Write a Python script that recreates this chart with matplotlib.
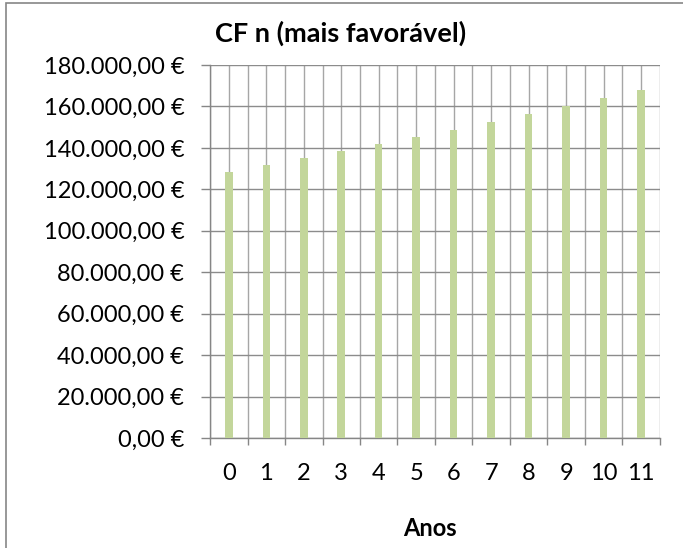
import matplotlib.pyplot as plt
from matplotlib.patches import Rectangle
from matplotlib.ticker import FuncFormatter
import numpy as np

plt.rcParams['font.family'] = ['Lato', 'DejaVu Sans']

# data
anos = ['0', '1', '2', '3', '4', '5', '6', '7', '8', '9', '10', '11']
cf_n = [128460, 131540, 134900, 138270, 141780, 145140,
        148850, 152500, 156540, 160340, 164180, 168170]

BAR_COLOR = '#C3D69B'
GRID_COLOR = '#A6A6A6'
AXIS_COLOR = '#868686'


def euro(v, pos=None):
    s = f"{v:,.2f}".replace(",", "X").replace(".", ",").replace("X", ".")
    return f"{s} €"


fig = plt.figure(figsize=(6.83, 5.48), dpi=100)
ax = fig.add_axes([210 / 683, 1 - 438 / 548, 450 / 683, 373 / 548])

x = np.arange(len(anos))
ax.bar(x, cf_n, width=0.2, color=BAR_COLOR, zorder=3)

ax.set_xlim(-0.5, len(anos) - 0.5)
ax.set_ylim(0, 180000)
ax.set_yticks(np.arange(0, 180001, 20000))
ax.yaxis.set_major_formatter(FuncFormatter(euro))

# category boundaries as major ticks, labels at centres as minor ticks
ax.set_xticks(np.arange(-0.5, len(anos), 1.0))
ax.set_xticklabels([])
ax.set_xticks(x, minor=True)
ax.set_xticklabels(anos, minor=True)

ax.tick_params(axis='x', which='major', direction='out', length=5, color=AXIS_COLOR, width=1)
ax.tick_params(axis='x', which='minor', length=0, pad=18, labelsize=17)
ax.tick_params(axis='y', direction='out', length=6.5, color=AXIS_COLOR, width=1, pad=12, labelsize=17)

ax.grid(True, axis='y', color='#8C8C8C', linewidth=1, zorder=0)
ax.grid(True, axis='x', which='both', color=GRID_COLOR, linewidth=1, zorder=0)
ax.set_axisbelow(True)

for side in ['top', 'right']:
    ax.spines[side].set_visible(False)
for side in ['left', 'bottom']:
    ax.spines[side].set_color(AXIS_COLOR)
    ax.spines[side].set_linewidth(1)

fig.text(341 / 683, 1 - 33 / 548, 'CF n (mais favorável)', ha='center', va='center',
         fontsize=19.5, fontweight='bold')
fig.text(430 / 683, 1 - 529 / 548, 'Anos', ha='center', va='center',
         fontsize=17, fontweight='bold')

# outer chart border
fig.patches.append(Rectangle((6 / 683, -0.1), 1.2, 1.1 - 3 / 548,
                             transform=fig.transFigure, fill=False,
                             edgecolor='#868686', linewidth=1.2))

fig.savefig('out.png', dpi=100)
